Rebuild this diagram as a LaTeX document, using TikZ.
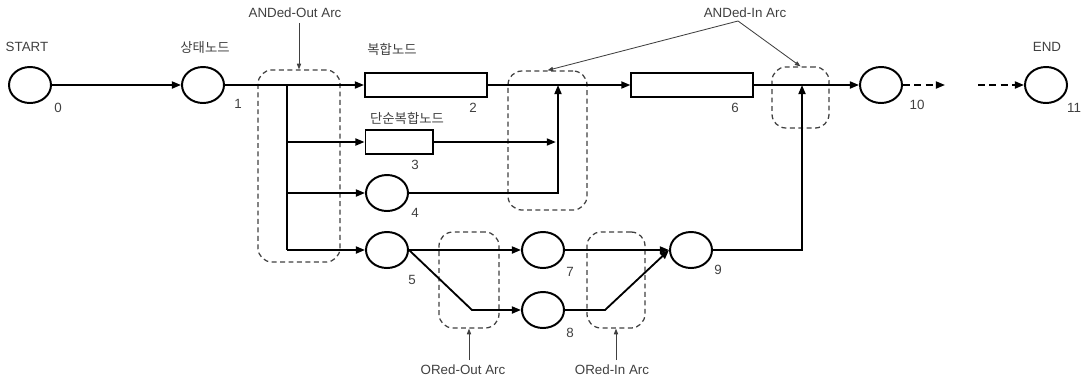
\documentclass[tikz,border=0pt]{standalone}
\usepackage{fontspec}
\setmainfont{Liberation Sans}
\newfontfamily\kr{Noto Sans CJK KR}
\usetikzlibrary{arrows.meta,shapes.geometric,positioning}

\begin{document}
\begin{tikzpicture}[
  x=0.025cm, y=-0.025cm,
  every node/.style = {font=\fontsize{9.5}{11}\selectfont, text=black!75},
  state/.style  = {draw=black, ellipse, line width=1.4pt, inner sep=0pt,
                   minimum width=1.05cm, minimum height=0.9cm},
  comp/.style   = {draw=black, rectangle, line width=1.4pt, inner sep=0pt,
                   minimum height=0.6cm},
  arc/.style    = {draw=black, line width=1.3pt,
                   -{Triangle[length=6.5pt,width=5pt]}},
  trunk/.style  = {draw=black, line width=1.3pt},
  grp/.style    = {draw=black!75, dash pattern=on 3.5pt off 2.5pt, line width=0.9pt,
                   rounded corners=0.35cm, inner sep=0pt},
  note/.style   = {draw=black!75, line width=0.6pt,
                   -{Triangle[length=4pt,width=3pt]}},
]
\useasboundingbox (0,0) rectangle (1083,377);

%% ── State and composite nodes ────────────────────────────────────────────────
\node[state] (n0)  at (30,85)   {};
\node[state] (n1)  at (203,85)  {};
\node[comp, minimum width=3.05cm]  (n2) at (426,85)  {};
\node[comp, minimum width=1.675cm] (n3) at (399,142) {};
\node[state] (n4)  at (387,193) {};
\node[state] (n5)  at (387,250) {};
\node[comp, minimum width=3.03cm]  (n6) at (692,85)  {};
\node[state] (n7)  at (543,250) {};
\node[state] (n8)  at (543,310) {};
\node[state] (n9)  at (691,250) {};
\node[state] (n10) at (881,85)  {};
\node[state] (n11) at (1046,85) {};

%% ── Node names and numbers ───────────────────────────────────────────────────
\node (tstart) at (27,47)   {START};
\node (tstate) at (205,47)  {\kr 상태노드};
\node (tcomp)  at (392,49)  {\kr 복합노드};
\node (tsimp)  at (407,118) {\kr 단순복합노드};
\node (tend)   at (1047,47) {END};
\node (l0)  at (58,108)  {0};
\node (l1)  at (238,104) {1};
\node (l2)  at (473,108) {2};
\node (l3)  at (415,165) {3};
\node (l4)  at (415,213) {4};
\node (l5)  at (412,280) {5};
\node (l6)  at (735,108) {6};
\node (l7)  at (570,272) {7};
\node (l8)  at (570,333) {8};
\node (l9)  at (718,270) {9};
\node (l10) at (917,105) {10};
\node (l11) at (1074,108) {11};

%% ── Arc groups (dashed) ──────────────────────────────────────────────────────
\node[grp, minimum width=2.05cm,  minimum height=4.8cm]   (andout) at (299,166)   {};
\node[grp, minimum width=1.975cm, minimum height=3.475cm] (andin1) at (547.5,140.5) {};
\node[grp, minimum width=1.425cm, minimum height=1.525cm] (andin2) at (800.5,97.5) {};
\node[grp, minimum width=1.5cm,   minimum height=2.4cm]   (orout)  at (469,280)   {};
\node[grp, minimum width=1.45cm,  minimum height=2.4cm]   (orin)   at (616,280)   {};

%% ── Join points ──────────────────────────────────────────────────────────────
\coordinate (t1)  at (287,85);
\coordinate (t5)  at (287,250);
\coordinate (j1)  at (558,85);
\coordinate (j2)  at (802,85);
\coordinate (b58) at (472,310);
\coordinate (b89) at (605,310);
\coordinate (e1)  at (945,85);
\coordinate (e2)  at (978,85);

%% ── Connectors ───────────────────────────────────────────────────────────────
\draw[arc] (n0) -- (n1);
\draw[arc] (n1) -- (n2);
\draw[trunk] (t1) -- (t5);
\draw[arc] (t1|-n3) -- (n3);
\draw[arc] (t1|-n4) -- (n4);
\draw[arc] (t5) -- (n5);
\draw[arc] (n2) -- (n6);
\draw[arc] (n3) -- ([xshift=-1.5pt]n3-|j1);
\draw[arc] (n4) -| (j1);
\draw[arc] (n6) -- (n10);
\draw[arc] (n5) -- (n7);
\draw[arc] (n5.east) -- (b58) -- (n8);
\draw[arc] (n7) -- (n9);
\draw[arc] (n8) -- (b89) -- (n9.west);
\draw[arc] (n9) -| (j2);
\draw[arc, dash pattern=on 5pt off 3pt] (n10) -- (e1);
\draw[arc, dash pattern=on 5pt off 3pt] (e2) -- (n11);

%% ── Annotations ──────────────────────────────────────────────────────────────
\node (aout) at (295,13)  {ANDed-Out Arc};
\node (ain)  at (745,13)  {ANDed-In Arc};
\node (oout) at (463,370) {ORed-Out Arc};
\node (oin)  at (612,370) {ORed-In Arc};
\coordinate (ai) at (738,21);
\draw[note] (aout.south-|andout) -- (andout.north);
\draw[note] (ai) -- (andin1.north);
\draw[note] (ai) -- (andin2.north);
\draw[note] (oout.north-|orout) -- (orout.south);
\draw[note] (oin.north-|orin) -- (orin.south);

\end{tikzpicture}
\end{document}
